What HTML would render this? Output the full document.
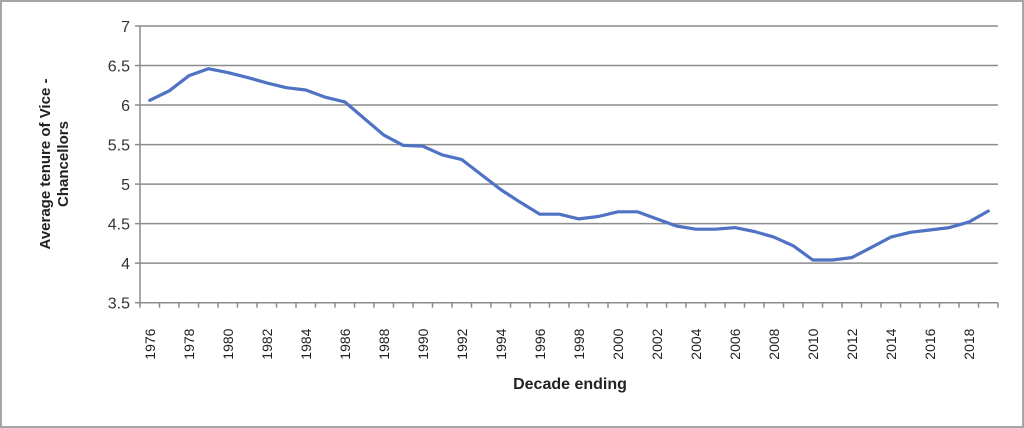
<!DOCTYPE html>
<html><head><meta charset="utf-8"><style>
body{margin:0;background:#fff;}
svg{display:block;font-family:"Liberation Sans",sans-serif;}
</style></head><body>
<svg id="chart" width="1024" height="428" viewBox="0 0 1024 428">
<rect x="1" y="1" width="1022" height="426" fill="#fff" stroke="#a6a6a6" stroke-width="2"/>
<g id="grid"></g><g id="axes"></g><g id="series"></g>
<text x="570" y="389" text-anchor="middle" font-size="16" font-weight="bold" fill="#222">Decade ending</text>
<text transform="translate(50,164) rotate(-90)" text-anchor="middle" font-size="15" font-weight="bold" fill="#222"><tspan x="0" y="0">Average tenure of Vice -</tspan><tspan x="0" y="18">Chancellors</tspan></text>
</svg>
<script>
const years=[1976,1977,1978,1979,1980,1981,1982,1983,1984,1985,1986,1987,1988,1989,1990,1991,1992,1993,1994,1995,1996,1997,1998,1999,2000,2001,2002,2003,2004,2005,2006,2007,2008,2009,2010,2011,2012,2013,2014,2015,2016,2017,2018,2019];
const tenure=[6.06,6.18,6.37,6.46,6.41,6.35,6.28,6.22,6.19,6.1,6.04,5.83,5.62,5.49,5.48,5.37,5.31,5.12,4.93,4.77,4.62,4.62,4.56,4.59,4.65,4.65,4.56,4.47,4.43,4.43,4.45,4.4,4.33,4.22,4.04,4.04,4.07,4.2,4.33,4.39,4.42,4.45,4.52,4.66];
const yTicks=[3.5,4,4.5,5,5.5,6,6.5,7];
const NS="http://www.w3.org/2000/svg";
const L=140,R=998,T=26,B=302.7,yMin=3.5,yMax=7;
const bw=(R-L)/years.length;
const xs=i=>L+bw*(i+0.5);
const ys=v=>B-(v-yMin)/(yMax-yMin)*(B-T);
function mk(tag,attrs,parent){const e=document.createElementNS(NS,tag);for(const k in attrs)e.setAttribute(k,attrs[k]);parent.appendChild(e);return e;}
const grid=document.getElementById('grid'),axes=document.getElementById('axes'),series=document.getElementById('series');
yTicks.forEach(v=>{
  const y=ys(v);
  if(v>yMin){const g=mk('line',{x1:L,x2:R,y1:y,y2:y,stroke:'#8c8c8c','stroke-width':1.5},grid);
  
  }
  const t=mk('text',{x:L-10,y:y+6,'text-anchor':'end','font-size':16,fill:'#333'},axes);
  t.textContent=String(v);
  
  
  const tk=mk('line',{x1:L-5,x2:L,y1:y,y2:y,stroke:'#8c8c8c','stroke-width':1.5},axes);
  
  
});
const ya=mk('line',{x1:L,x2:L,y1:T,y2:B,stroke:'#8c8c8c','stroke-width':1.5},axes);


const xa=mk('line',{x1:L,x2:R,y1:B,y2:B,stroke:'#8c8c8c','stroke-width':1.5},axes);


for(let i=0;i<=years.length;i++){
  const x=L+bw*i;
  const tk=mk('line',{x1:x,x2:x,y1:B,y2:B+5,stroke:'#8c8c8c','stroke-width':1.5},axes);
  
  
}
years.forEach((yr,i)=>{
  if(i%2)return;
  const x=xs(i)+5;
  const t=mk('text',{transform:`translate(${x},${B+57}) rotate(-90)`,'font-size':14,fill:'#222'},axes);
  t.textContent=String(yr);
  
  
});
const pts=tenure.map((v,i)=>xs(i).toFixed(1)+','+ys(v).toFixed(1)).join(' ');
const pl=mk('polyline',{points:pts,fill:'none',stroke:'#4f72c4','stroke-width':3.2,'stroke-linejoin':'round','stroke-linecap':'round'},series);


</script>
</body></html>
